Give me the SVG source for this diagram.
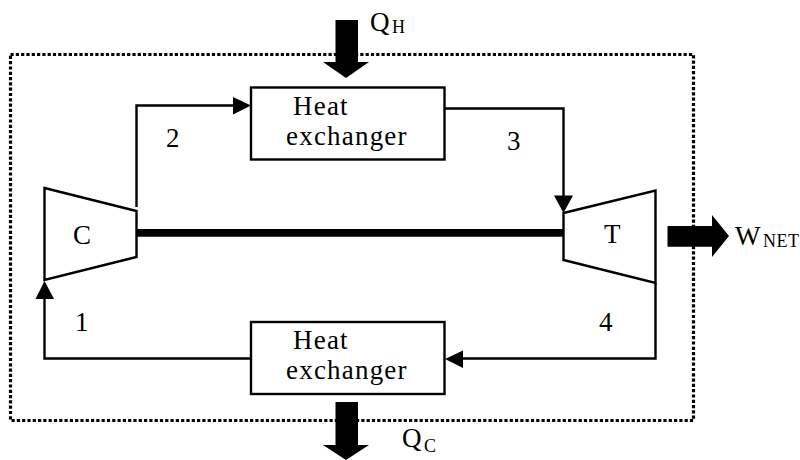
<svg xmlns="http://www.w3.org/2000/svg" width="800" height="460" viewBox="0 0 800 460">
<style>
.l{fill:none;stroke:#000;stroke-width:2.4}
.box{fill:#fff;stroke:#000;stroke-width:2.4}
.t{font-family:"Liberation Serif","Times New Roman",serif;font-size:27px;fill:#000;letter-spacing:1.2px}
.n{font-family:"Liberation Serif","Times New Roman",serif;font-size:27px;fill:#000}
.s{font-family:"Liberation Serif","Times New Roman",serif;font-size:18px;fill:#000}
</style>
<rect width="800" height="460" fill="#fff"/>
<g id="boundary"><rect x="10.500" y="54.500" width="683" height="366" fill="none" stroke="#000" stroke-width="3.200" stroke-dasharray="3.200 2.100"/></g>
<g id="connectors">
<path class="l" d="M136.500 207V105.500H236"/><path d="M233 97V114.500L251 105.500Z"/>
<path class="l" d="M444.500 108.500H563.500V196"/><path d="M554 195.500H573L563.500 213Z"/>
<path class="l" d="M655.500 283V358.500H462"/><path d="M463 350.500V368L445 359Z"/>
<path class="l" d="M251 358.500H44.500V296"/><path d="M35.500 299H54L44.500 281Z"/>
<path d="M137 229H564V236.800H137Z"/>
</g>
<g id="compressor"><path class="box" d="M44.500 188L136.500 211V257L44.500 280Z"/><text class="n" x="73" y="244">C</text></g>
<g id="turbine"><path class="box" d="M563.500 213L655.500 190.500V283L563.500 260Z"/><text class="n" x="604" y="243">T</text></g>
<g id="heater"><rect class="box" x="251" y="87.500" width="193.500" height="72"/><text class="t" x="293" y="115">Heat</text><text class="t" x="286" y="145">exchanger</text></g>
<g id="cooler"><rect class="box" x="251" y="322" width="193.500" height="72"/><text class="t" x="293" y="349">Heat</text><text class="t" x="286" y="379">exchanger</text></g>
<g id="qh"><path d="M335.500 20H358V62H369L346 78L323 62H335.500Z"/><text class="n" x="370" y="31">Q</text><text class="s" x="392" y="33">H</text></g>
<g id="qc"><path d="M335.500 402H358V445H369L346 460L323 445H335.500Z"/><text class="n" x="402" y="447">Q</text><text class="s" x="424" y="452">C</text></g>
<g id="wnet"><path d="M667.500 226H712V215L729 236L712 257V246.800H667.500Z"/><text class="n" x="735" y="245">W</text><text class="s" x="763" y="247" letter-spacing="0.500">NET</text></g>
<g id="labels"><text class="n" x="166" y="147">2</text><text class="n" x="507" y="150">3</text><text class="n" x="75" y="331">1</text><text class="n" x="599" y="331">4</text></g>
</svg>
